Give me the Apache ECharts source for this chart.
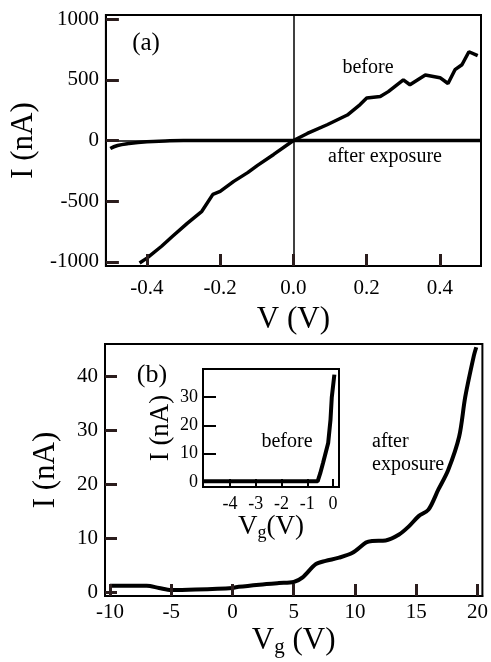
<!DOCTYPE html>
<html>
<head>
<meta charset="utf-8">
<script src="https://cdn.jsdelivr.net/npm/echarts@6/dist/echarts.min.js"></script>
<style>
  html, body { margin: 0; padding: 0; background: #fff; }
  #chart { width: 491px; height: 662px; }
</style>
</head>
<body>
<div id="chart"></div>
<script>
// panel (a): I-V before and after exposure
var beforeV = [-0.42, -0.40, -0.36, -0.33, -0.29, -0.25, -0.22, -0.20, -0.163, -0.125, -0.098, -0.054, 0, 0.038, 0.092, 0.147, 0.182, 0.20, 0.237, 0.259, 0.30, 0.318, 0.36, 0.40, 0.422, 0.441, 0.46, 0.479, 0.503];
var beforeI = [-1010, -970, -872, -790, -683, -584, -444, -420, -337, -265, -205, -115, 0, 58, 130, 210, 296, 350, 362, 403, 500, 460, 540, 518, 470, 584, 625, 732, 700];
var afterV = [-0.50, -0.48, -0.45, -0.40, -0.35, -0.30, 0, 0.51];
var afterI = [-66, -41, -25, -10, -4, -1, 0, 0];

// panel (b): I vs gate voltage after exposure
var gateVg = [-10, -7, -6, -5, -3, 0, 0.5, 2.2, 3.8, 5.0, 5.7, 6.8, 7.6, 8.7, 9.8, 10.9, 11.4, 12.5, 13.6, 14.4, 15.2, 16.0, 16.8, 17.6, 18.5, 19.0, 19.7, 19.9];
var gateI = [1.2, 1.2, 0.8, 0.4, 0.5, 0.8, 1.0, 1.4, 1.7, 1.9, 2.7, 5.2, 5.8, 6.4, 7.3, 9.2, 9.5, 9.6, 10.7, 12.2, 14.1, 15.3, 19.0, 22.6, 28.8, 36.2, 43.8, 45.4];

// inset: before exposure
var insetVg = [-5.05, -0.6, -0.5, -0.39, -0.19, -0.1, -0.05, 0.05];
var insetI = [0.2, 0.2, 3, 6.7, 13.8, 22, 30, 38];

// tick values
var aXTicks = [-0.4, -0.2, 0, 0.2, 0.4];
var aYTicks = [-1000, -500, 0, 500, 1000];
var bXTicks = [-10, -5, 0, 5, 10, 15, 20];
var bYTicks = [0, 10, 20, 30, 40];
var inXTicks = [-4, -3, -2, -1, 0];
var inYTicks = [0, 10, 20, 30];

function pairs(xs, ys) {
  var out = [];
  for (var i = 0; i < xs.length; i++) out.push([xs[i], ys[i]]);
  return out;
}

var font = '"Liberation Serif", "DejaVu Serif", serif';
var chart = echarts.init(document.getElementById('chart'));

function axisBase(min, max, ticks, fs, tickLen, margin, fmt) {
  return {
    type: 'value',
    min: min,
    max: max,
    z: 10,
    axisLine: { show: true, onZero: false, lineStyle: { color: '#000', width: 2 } },
    splitLine: { show: false },
    axisTick: { show: true, inside: true, length: tickLen, customValues: ticks, lineStyle: { color: '#000', width: 2 } },
    axisLabel: { show: true, customValues: ticks, color: '#000', fontFamily: font, fontSize: fs, margin: margin,
      formatter: fmt || function (v) { return String(v); } },
    nameTextStyle: { color: '#000', fontFamily: font }
  };
}

// tick style for the two main panels
function ticks(vals, len) {
  return { show: true, inside: true, length: len, customValues: vals, lineStyle: { color: '#2b1d1d', width: 3 } };
}

var gridStyle = { show: true, borderColor: '#000', borderWidth: 2, backgroundColor: 'transparent' };

var option = {
  animation: false,
  backgroundColor: '#fff',
  grid: [
    Object.assign({ left: 105, top: 15, width: 376, height: 251 }, gridStyle),
    Object.assign({ left: 105, top: 344, width: 379, height: 252 }, gridStyle),
    Object.assign({ left: 203, top: 369, width: 136, height: 118, z: 11 }, gridStyle, { backgroundColor: '#fff' })
  ],
  xAxis: [
    Object.assign(axisBase(-0.512, 0.512, aXTicks, 21, 12, 12, function (v) { return v.toFixed(1); }), {
      gridIndex: 0, name: 'V (V)', nameLocation: 'middle', nameGap: 38,
      axisTick: ticks(aXTicks, 12),
      nameTextStyle: { color: '#000', fontFamily: font, fontSize: 31 }
    }),
    Object.assign(axisBase(-10.4, 20.4, bXTicks, 21, 12, 6, null), {
      gridIndex: 1, name: 'V{sub|g} (V)', nameLocation: 'middle', nameGap: 27,
      axisTick: ticks(bXTicks, 12),
      nameTextStyle: { color: '#000', fontFamily: font, fontSize: 31, rich: { sub: { fontFamily: font, fontSize: 21, verticalAlign: 'bottom', padding: [14, 0, 0, 0] } } }
    }),
    Object.assign(axisBase(-5.05, 0.23, inXTicks, 18, 8, 8, null), {
      gridIndex: 2, z: 13, name: 'V{sub|g}(V)', nameLocation: 'middle', nameGap: 25,
      nameTextStyle: { color: '#000', fontFamily: font, fontSize: 27, rich: { sub: { fontFamily: font, fontSize: 18, verticalAlign: 'bottom', padding: [12, 0, 0, 0] } } }
    })
  ],
  yAxis: [
    Object.assign(axisBase(-1035, 1035, aYTicks, 21, 13, 7, null), {
      gridIndex: 0, name: 'I (nA)', nameLocation: 'middle', nameGap: 58,
      axisTick: ticks(aYTicks, 13),
      nameTextStyle: { color: '#000', fontFamily: font, fontSize: 31 }
    }),
    Object.assign(axisBase(-0.7, 46, bYTicks, 21, 12, 7, null), {
      gridIndex: 1, name: 'I (nA)', nameLocation: 'middle', nameGap: 44,
      axisTick: ticks(bYTicks, 12),
      nameTextStyle: { color: '#000', fontFamily: font, fontSize: 31 }
    }),
    Object.assign(axisBase(-1.8, 40, inYTicks, 18, 13, 5, null), {
      gridIndex: 2, z: 13, name: 'I (nA)', nameLocation: 'middle', nameGap: 29,
      nameTextStyle: { color: '#000', fontFamily: font, fontSize: 27 }
    })
  ],
  series: [
    {
      name: 'before', type: 'line', xAxisIndex: 0, yAxisIndex: 0,
      data: pairs(beforeV, beforeI), showSymbol: false, smooth: false,
      lineStyle: { color: '#000', width: 3.5 },
      markLine: {
        silent: true, symbol: 'none', label: { show: false },
        lineStyle: { color: '#000', width: 1.5, type: 'solid' },
        data: [{ xAxis: 0 }, { yAxis: 0 }]
      }
    },
    {
      name: 'after exposure', type: 'line', xAxisIndex: 0, yAxisIndex: 0,
      data: pairs(afterV, afterI), showSymbol: false, smooth: true,
      lineStyle: { color: '#000', width: 3.5 }
    },
    {
      name: 'after exposure (b)', type: 'line', xAxisIndex: 1, yAxisIndex: 1,
      data: pairs(gateVg, gateI), showSymbol: false, smooth: 0.3,
      lineStyle: { color: '#000', width: 4 }
    },
    {
      name: 'before (inset)', type: 'line', xAxisIndex: 2, yAxisIndex: 2, z: 12,
      data: pairs(insetVg, insetI), showSymbol: false, smooth: false,
      lineStyle: { color: '#000', width: 4 }
    }
  ],
  graphic: [
    { type: 'text', z: 100, style: { text: '(a)', x: 146, y: 43, textAlign: 'center', textVerticalAlign: 'middle', font: '25px ' + font, fill: '#000' } },
    { type: 'text', z: 100, style: { text: 'before', x: 368, y: 68, textAlign: 'center', textVerticalAlign: 'middle', font: '20px ' + font, fill: '#000' } },
    { type: 'text', z: 100, style: { text: 'after exposure', x: 385, y: 157, textAlign: 'center', textVerticalAlign: 'middle', font: '20px ' + font, fill: '#000' } },
    { type: 'text', z: 100, style: { text: '(b)', x: 152, y: 375, textAlign: 'center', textVerticalAlign: 'middle', font: '26px ' + font, fill: '#000' } },
    { type: 'text', z: 100, style: { text: 'before', x: 287, y: 442, textAlign: 'center', textVerticalAlign: 'middle', font: '20px ' + font, fill: '#000' } },
    { type: 'text', z: 100, style: { text: 'after', x: 372, y: 442, textAlign: 'left', textVerticalAlign: 'middle', font: '20px ' + font, fill: '#000' } },
    { type: 'text', z: 100, style: { text: 'exposure', x: 372, y: 465, textAlign: 'left', textVerticalAlign: 'middle', font: '20px ' + font, fill: '#000' } }
  ]
};

chart.setOption(option);
</script>
</body>
</html>
